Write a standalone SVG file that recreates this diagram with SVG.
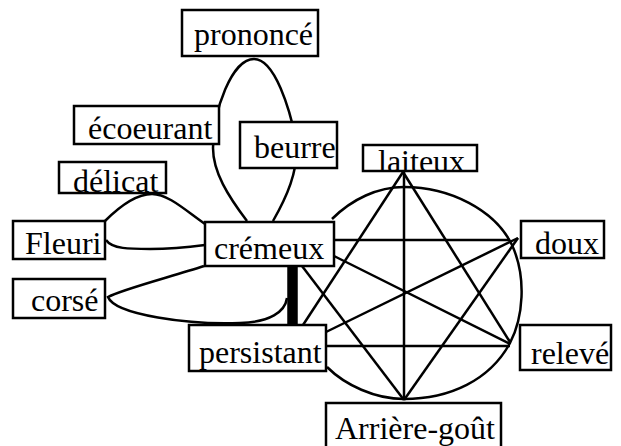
<svg xmlns="http://www.w3.org/2000/svg" width="621" height="446" viewBox="0 0 621 446">
<style>
.e{fill:none;stroke:#000;stroke-width:2.5}
.b{fill:#fff;stroke:#000;stroke-width:2.5}
.t{font-family:'Liberation Serif',serif;font-size:32px;fill:#000}
</style>
<rect width="621" height="446" fill="#fff"/>
<g id="connectors">
<path class="e" d="M247,221 C228,196 213,172 213,148 C213,110 232,59 254,59 C275,59 290,110 296,140 C300,170 285,200 273,221"/>
<path class="e" d="M105,221 C122,204 138,194 152,194 C168,194 185,210 205,224"/>
<path class="e" d="M106,240 C112,249 130,249 150,249 C175,249 190,247 205,245"/>
<path class="e" d="M204,266 C170,277 120,290 108,297 C115,315 190,325 240,323 C270,322 285,312 287,298"/>
<line x1="292.5" y1="266" x2="292.5" y2="325" stroke="#000" stroke-width="10.5"/>
<path class="e" d="M332,219 C352,199 378,187 404,187 C450,187 495,210 512,245 C527,278 523,318 510,343 C490,380 450,399 404,399 C375,399 345,385 327,367"/>
<line class="e" x1="404" y1="171" x2="404" y2="400"/>
<line class="e" x1="403" y1="172" x2="303" y2="325"/>
<line class="e" x1="403" y1="172" x2="510" y2="342"/>
<line class="e" x1="334" y1="240" x2="510" y2="240"/>
<line class="e" x1="334" y1="256" x2="510" y2="344"/>
<line class="e" x1="302" y1="266" x2="404" y2="400"/>
<line class="e" x1="326" y1="332" x2="518" y2="238"/>
<line class="e" x1="326" y1="346" x2="510" y2="346"/>
<line class="e" x1="518" y1="238" x2="404" y2="400"/>
</g>
<g id="prononce"><rect class="b" x="182" y="10" width="136" height="46"/><text class="t" x="194" y="45" font-family="Liberation Serif">prononcé</text></g>
<g id="ecoeurant"><rect class="b" x="74" y="106" width="145" height="38"/><text class="t" x="88" y="139">écoeurant</text></g>
<g id="beurre"><rect class="b" x="240" y="122" width="97" height="46"/><text class="t" x="254" y="158">beurre</text></g>
<g id="delicat"><rect class="b" x="59" y="162" width="107" height="31"/><text class="t" x="73" y="192">délicat</text></g>
<g id="fleuri"><rect class="b" x="13" y="221" width="92" height="38"/><text class="t" x="25" y="254">Fleuri</text></g>
<g id="cremeux"><rect class="b" x="205" y="222" width="129" height="44"/><text class="t" x="214" y="259">crémeux</text></g>
<g id="corse"><rect class="b" x="13" y="279" width="92" height="39"/><text class="t" x="31" y="311">corsé</text></g>
<g id="persistant"><rect class="b" x="189" y="325" width="137" height="46"/><text class="t" x="199" y="363">persistant</text></g>
<g id="laiteux"><rect class="b" x="363" y="145" width="114" height="26"/><text class="t" x="378" y="172">laiteux</text></g>
<g id="doux"><rect class="b" x="521" y="221" width="83" height="37"/><text class="t" x="535" y="254">doux</text></g>
<g id="releve"><rect class="b" x="520" y="325" width="91" height="45"/><text class="t" x="531" y="364">relevé</text></g>
<g id="arriere-gout"><rect class="b" x="326" y="403" width="175" height="60"/><text class="t" x="335" y="439">Arrière-goût</text></g>
</svg>
